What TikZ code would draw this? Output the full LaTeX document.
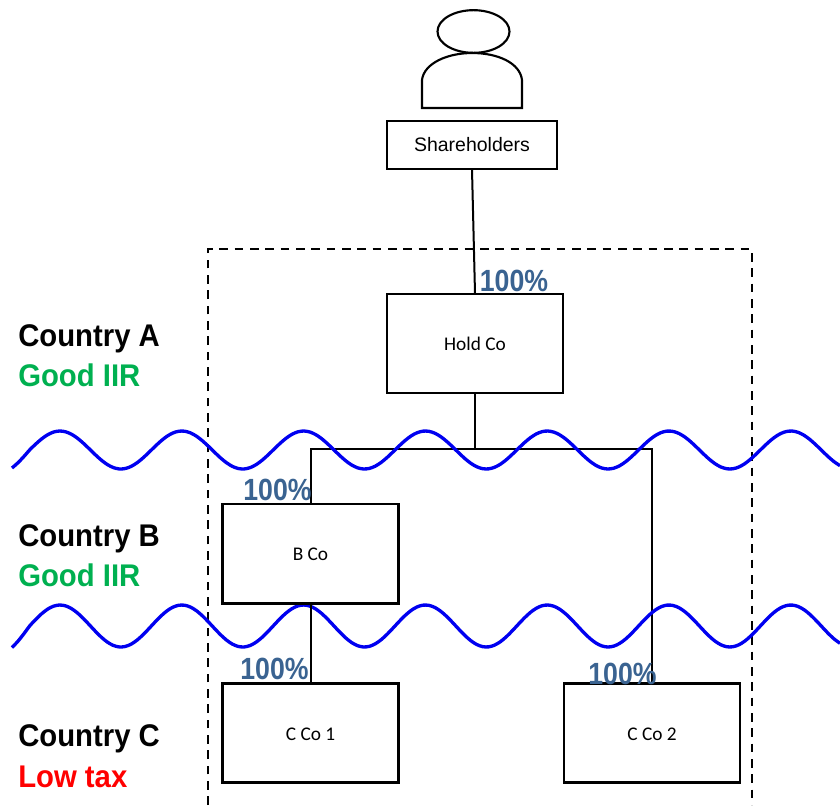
\documentclass[tikz,border=0pt]{standalone}
\usepackage{fontspec}
\usetikzlibrary{shapes.geometric}
\setmainfont{Liberation Sans}
\newfontfamily\boxfont{Carlito}
\newfontfamily\pctfont[FakeStretch=0.87]{Liberation Sans Bold}
\newfontfamily\countryfont[FakeStretch=0.935]{Liberation Sans Bold}
\definecolor{pctblue}{HTML}{3A6391}
\definecolor{goodgreen}{HTML}{00B050}
\definecolor{wavecol}{HTML}{0000F0}
\tikzset{
  x=0.75pt,y=-0.75pt,
  entity/.style={draw=black,line width=1.8pt,fill=white,minimum width=132pt,minimum height=74pt,inner sep=0pt,text height=11pt,text depth=0pt,font=\boxfont\fontsize{14.5}{16}\selectfont},
  holderbox/.style={draw=black,line width=1.3pt,fill=white,minimum width=128pt,minimum height=35.5pt,inner sep=0pt,font=\fontsize{14.6}{16}\selectfont},
  link/.style={draw=black,line width=1.5pt},
  wave/.style={draw=wavecol,line width=2.5pt,smooth,samples=140},
  pct/.style={anchor=base,text=pctblue,inner sep=0pt,font=\pctfont\fontsize{23}{26}\selectfont},
  country/.style={anchor=base west,inner sep=0pt,font=\countryfont\fontsize{23.5}{26}\selectfont},
  person/.style={draw=black,line width=1.6pt,fill=white},
  frame/.style={draw=black,line width=1.5pt,dash pattern=on 6.5pt off 5pt},
}
\begin{document}
\begin{tikzpicture}
\useasboundingbox (0,0) rectangle (840,808);
% frame
\draw[frame] (208,805) -- (208,249) -- (752,249) -- (752,805);
% nodes
\node[holderbox] (share) at (472,145) {Shareholders};
\node[entity] (hold) at (475,343.5) {Hold Co};
\node[entity] (bco) at (310.5,553.5) {B Co};
\node[entity] (cco1) at (310.5,733) {C Co 1};
\node[entity] (cco2) at (652,733) {C Co 2};
\coordinate (junction) at (hold.south |- 0,449);
\coordinate (leftturn) at (bco.north |- junction);
\coordinate (rightturn) at (cco2.north |- junction);
% connectors
\draw[link] (share.south) -- (hold.north);
\draw[link] (hold.south) -- (junction);
\draw[link] (bco.north) -- (leftturn) -- (rightturn) -- (cco2.north);
\draw[link] (bco.south) -- (cco1.north);
% waves
\draw[wave,domain=12:840] plot (\x,{450-19*cos(2.9557*(\x-60))+0.17*max(0,30-\x)});
\draw[wave,domain=12:840] plot (\x,{626-21*cos(2.9557*(\x-60))+0.28*max(0,30-\x)});
% redraw box edges over waves where they touch
\draw[link,line width=1.8pt] (bco.south west) -- (bco.south east);
\draw[link] (bco.south) -- (cco1.north);
% person
\path[person] (422,108) -- (422,80) .. controls (424,63) and (448,53) .. (472,53) .. controls (498,53) and (520,63) .. (522,80) -- (522,108) -- cycle;
\node[person,shape=ellipse,minimum width=54pt,minimum height=32pt,inner sep=0pt,fill=none] (head) at (473.5,31.5) {};
% percent labels
\node[pct] (p1) at (514,291) {100\%};
\node[pct] (p2) at (277.5,500) {100\%};
\node[pct] (p3) at (274.5,679) {100\%};
\node[pct] (p4) at (622.5,684) {100\%};
% country labels
\node[country] (ca) at (18,346) {Country A};
\node[country,text=goodgreen] (ga) at (18,386) {Good IIR};
\node[country] (cb) at (18,546) {Country B};
\node[country,text=goodgreen] (gb) at (18,586) {Good IIR};
\node[country] (cc) at (18,746) {Country C};
\node[country,text=red] (lt) at (18,787) {Low tax};
\end{tikzpicture}
\end{document}
